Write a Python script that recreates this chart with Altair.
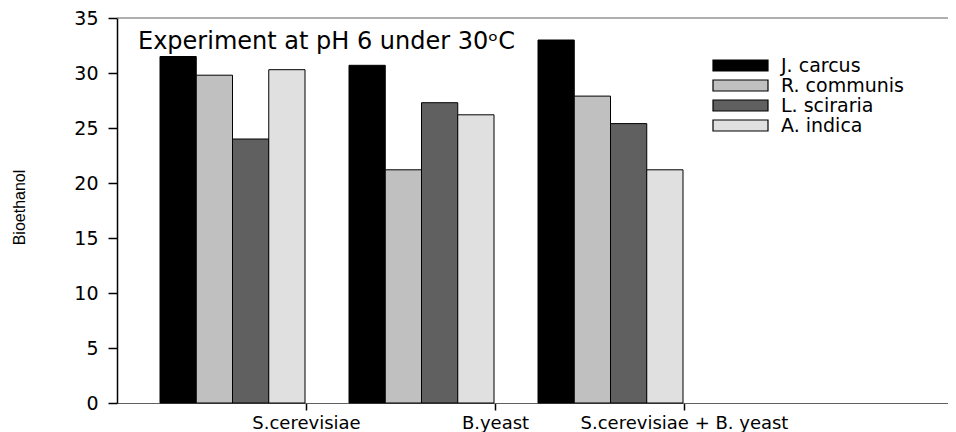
import json
import altair as alt
import pandas as pd

# ---- data ----
groups = ["S.cerevisiae", "B.yeast", "S.cerevisiae + B. yeast"]
series = ["J. carcus", "R. communis", "L. sciraria", "A. indica"]
j_carcus = [31.5, 30.7, 33.0]
r_communis = [29.8, 21.2, 27.9]
l_sciraria = [24.0, 27.3, 25.4]
a_indica = [30.3, 26.2, 21.2]
colors = ["#000000", "#c0c0c0", "#606060", "#e0e0e0"]
y_ticks = [0, 5, 10, 15, 20, 25, 30, 35]
y_title = "Bioethanol"
chart_title = "Experiment at pH 6 under 30\u1d52C"

# ---- layout ----
W, H = 831, 385
SLOT = 189.0                 # px per category slot
GAP = 43.0 / SLOT            # empty space at the left of each slot
BW = 36.25 / SLOT            # bar width in slot units
XMAX = W / SLOT

values = [j_carcus, r_communis, l_sciraria, a_indica]
rows = []
for gi, g in enumerate(groups):
    for si, s in enumerate(series):
        x0 = gi + GAP + si * BW
        rows.append({"group": g, "series": s, "value": values[si][gi],
                     "x": x0, "x2": x0 + BW})
df = pd.DataFrame(rows)
leg = pd.DataFrame({"series": series})
one = pd.DataFrame({"a": [0]})

color = alt.Color("series:N", scale=alt.Scale(domain=series, range=colors), legend=None)
label_expr = json.dumps(groups) + "[datum.value - 1]"

bars = alt.Chart(df).mark_rect(stroke="black", strokeWidth=1).encode(
    x=alt.X("x:Q", scale=alt.Scale(domain=[0, XMAX], nice=False, zero=False),
            axis=alt.Axis(values=[1, 2, 3], labelExpr=label_expr, title=None, grid=False,
                          domainColor="#606060", domainWidth=1, tickColor="black",
                          tickSize=7, tickWidth=1.5, labelFont="DejaVu Sans",
                          labelFontSize=18, labelColor="black", labelPadding=4,
                          labelLimit=0, labelOverlap=False)),
    x2="x2:Q",
    y=alt.Y("value:Q", scale=alt.Scale(domain=[0, 35], nice=False),
            axis=alt.Axis(values=y_ticks, title=y_title, grid=False,
                          domainColor="black", domainWidth=1.5, tickColor="black",
                          tickSize=9, tickWidth=1.5, labelFont="DejaVu Sans",
                          labelFontSize=19, labelColor="black", labelPadding=10,
                          titleFont="Liberation Sans", titleFontSize=16,
                          titleFontWeight="normal", titleColor="black",
                          titleX=-93, titleY=189, titleAngle=270,
                          titleAlign="center", titleBaseline="alphabetic")),
    y2=alt.datum(0),
    color=color,
)

top_rule = alt.Chart(one).mark_rule(color="#606060", strokeWidth=1).encode(
    x=alt.value(0), x2=alt.value(W), y=alt.value(0))

title = alt.Chart(one).mark_text(align="left", baseline="alphabetic", fontSize=24,
                                 font="DejaVu Sans", color="black").encode(
    x=alt.value(21), y=alt.value(31), text=alt.value(chart_title))

leg_y = alt.Y("series:N", scale=alt.Scale(domain=series, range=[47.5, 107.5], padding=0), axis=None)
swatches = alt.Chart(leg).mark_point(shape="M-1,-0.2L1,-0.2L1,0.2L-1,0.2Z", size=3025,
                                     filled=True, opacity=1, stroke="black",
                                     strokeWidth=1.2).encode(
    x=alt.value(623.5), y=leg_y, color=color)
leg_text = alt.Chart(leg).mark_text(align="left", baseline="middle", fontSize=19,
                                    font="DejaVu Sans", color="black").encode(
    x=alt.value(664), y=leg_y, text="series:N")

chart = alt.layer(bars, top_rule, title, swatches, leg_text).resolve_scale(
    y="independent"
).properties(
    width=W, height=H,
    autosize=alt.AutoSizeParams(type="none"),
    padding={"left": 109, "top": 10, "right": 0, "bottom": 29},
).configure_view(stroke=None)

chart.save("out.html", embed_options={"renderer": "svg", "actions": False})
